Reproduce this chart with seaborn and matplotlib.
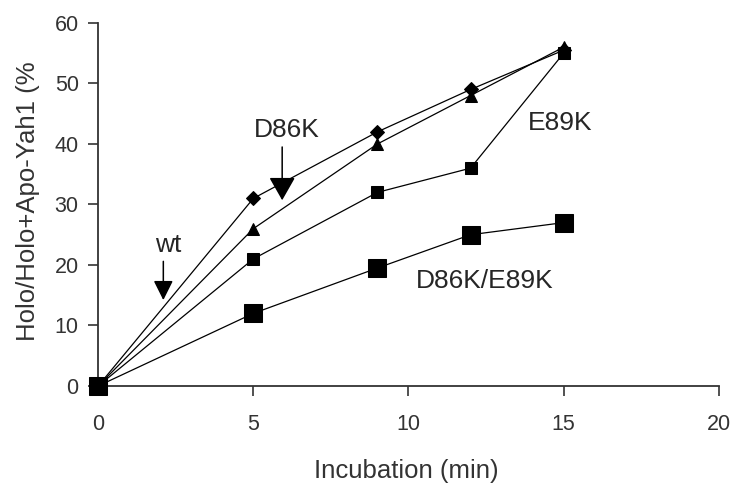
import matplotlib
matplotlib.use("Agg")
import matplotlib.pyplot as plt
import seaborn as sns
import pandas as pd

# incubation time (min)
time = [0, 5, 9, 12, 15]

# % holo-Yah1 for each variant
wt = [0, 31, 42, 49, 55.5]
d86k = [0, 26, 40, 48, 56]
e89k = [0, 21, 32, 36, 55]
double = [0, 12, 19.5, 25, 27]

names = ["wt", "D86K", "E89K", "D86K/E89K"]
markers = ["D", "^", "s", "s"]
sizes = [7.5, 9, 8, 13]

sns.set_theme(style="ticks")
plt.rcParams["font.family"] = ["Liberation Sans", "DejaVu Sans"]

rows = []
for name, vals in zip(names, [wt, d86k, e89k, double]):
    for t, v in zip(time, vals):
        rows.append({"time": t, "value": v, "variant": name})
df = pd.DataFrame(rows)

fig = plt.figure(figsize=(7.38, 4.88), dpi=100)
ax = fig.add_axes([0.133, 0.209, 0.841, 0.744])

for name, m, s in zip(names, markers, sizes):
    sub = df[df["variant"] == name]
    sns.lineplot(data=sub, x="time", y="value", ax=ax, color="black",
                 linewidth=0.9, marker=m, markersize=s, markeredgecolor="black",
                 markerfacecolor="black", clip_on=False, zorder=3)

ax.set_xlim(0, 20)
ax.set_ylim(0, 60)
ax.set_xticks([0, 5, 10, 15, 20])
ax.set_yticks(range(0, 61, 10))
ax.tick_params(labelsize=15.5, colors="#333333", length=7, width=1.2)
ax.tick_params(axis="x", pad=13)
ax.tick_params(axis="y", pad=7)
for sp in ["top", "right"]:
    ax.spines[sp].set_visible(False)
for sp in ["left", "bottom"]:
    ax.spines[sp].set_color("#333333")
    ax.spines[sp].set_linewidth(1.3)

ax.set_xlabel("Incubation (min)", fontsize=18.5, color="#333333")
ax.set_ylabel("Holo/Holo+Apo-Yah1 (%", fontsize=18.5, color="#333333")
ax.xaxis.set_label_coords(0.497, -0.2)
ax.yaxis.set_label_coords(-0.093, 0.51)

# labels with arrows
ax.text(2.25, 23.3, "wt", fontsize=19, ha="center", va="center")
ax.annotate("", xy=(2.1, 14.2), xytext=(2.1, 20.6),
            arrowprops=dict(arrowstyle="-|>,head_length=0.6,head_width=0.3",
                            color="black", lw=1.1, mutation_scale=20,
                            shrinkA=0, shrinkB=0))
ax.text(6.08, 42.3, "D86K", fontsize=19, ha="center", va="center")
ax.annotate("", xy=(5.93, 30.7), xytext=(5.93, 39.5),
            arrowprops=dict(arrowstyle="-|>,head_length=0.72,head_width=0.41",
                            color="black", lw=1.1, mutation_scale=20,
                            shrinkA=0, shrinkB=0))
ax.text(14.9, 43.5, "E89K", fontsize=19, ha="center", va="center")
ax.text(12.46, 17.4, "D86K/E89K", fontsize=19, ha="center", va="center")

fig.savefig("out.png", dpi=100)
